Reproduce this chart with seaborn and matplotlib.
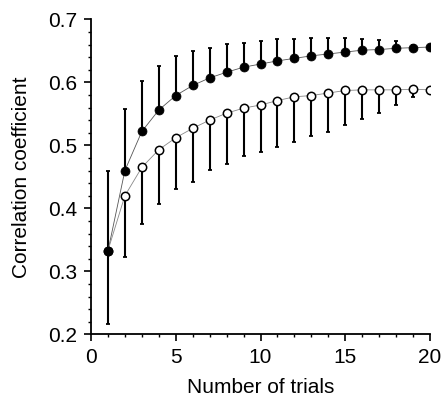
import numpy as np
import pandas as pd
import matplotlib
matplotlib.use("Agg")
import matplotlib.pyplot as plt
from matplotlib.ticker import MultipleLocator
import seaborn as sns

## Data
trials = list(range(1, 21))
filled_mean = [0.332, 0.460, 0.522, 0.556, 0.579, 0.595, 0.607, 0.616, 0.624, 0.629,
               0.634, 0.638, 0.642, 0.645, 0.648, 0.651, 0.652, 0.654, 0.655, 0.656]
filled_upper = [0.459, 0.558, 0.602, 0.626, 0.641, 0.650, 0.655, 0.661, 0.662, 0.665,
                0.668, 0.669, 0.670, 0.670, 0.670, 0.669, 0.667, 0.666, 0.660, 0.657]
open_mean = [0.333, 0.420, 0.465, 0.493, 0.512, 0.527, 0.540, 0.551, 0.559, 0.564,
             0.571, 0.577, 0.579, 0.583, 0.587, 0.588, 0.588, 0.588, 0.589, 0.588]
open_lower = [0.217, 0.323, 0.375, 0.407, 0.431, 0.442, 0.461, 0.471, 0.483, 0.490,
              0.498, 0.506, 0.514, 0.521, 0.532, 0.542, 0.552, 0.564, 0.577, 0.585]

df = pd.DataFrame({"trials": trials, "filled": filled_mean, "open": open_mean})

sns.set_style("ticks")
plt.rcParams["font.family"] = ["Liberation Sans", "DejaVu Sans"]
plt.rcParams["text.color"] = "black"
plt.rcParams["axes.labelcolor"] = "black"
plt.rcParams["xtick.color"] = "black"
plt.rcParams["ytick.color"] = "black"
plt.rcParams["axes.edgecolor"] = "black"

fig = plt.figure(figsize=(4.43, 3.98), dpi=100)
ax = fig.add_axes([0.2054, 0.160, 0.7653, 0.7915])

## Error bars: upper only for filled, lower only for open
ax.errorbar(trials, filled_mean,
            yerr=[np.zeros(20), np.array(filled_upper) - np.array(filled_mean)],
            fmt="none", ecolor="black", elinewidth=1.5, capsize=1.5, capthick=1.3, zorder=1)
ax.errorbar(trials, open_mean,
            yerr=[np.array(open_mean) - np.array(open_lower), np.zeros(20)],
            fmt="none", ecolor="black", elinewidth=1.5, capsize=1.5, capthick=1.3, zorder=1)

## Connecting lines
sns.lineplot(data=df, x="trials", y="filled", ax=ax, color="#555555", lw=0.6, zorder=2)
sns.lineplot(data=df, x="trials", y="open", ax=ax, color="#888888", lw=0.6, zorder=2)

## Markers
sns.scatterplot(data=df, x="trials", y="open", ax=ax, s=36, color="white",
                edgecolor="black", linewidth=1.1, zorder=3)
sns.scatterplot(data=df, x="trials", y="filled", ax=ax, s=42, color="black",
                edgecolor="black", linewidth=0.5, zorder=4)

ax.set_xlim(0, 20)
ax.set_ylim(0.2, 0.7)
ax.xaxis.set_major_locator(MultipleLocator(5))
ax.xaxis.set_minor_locator(MultipleLocator(1))
ax.yaxis.set_minor_locator(MultipleLocator(0.02))
ax.set_yticks(np.arange(0.2, 0.71, 0.1))
ax.set_yticklabels([f"{v:.1f}" for v in np.arange(0.2, 0.71, 0.1)])

ax.tick_params(which="major", length=5, width=1.2, labelsize=15, direction="out", pad=5)
ax.tick_params(which="minor", length=2.5, width=1.0, direction="out")
for s in ["left", "bottom"]:
    ax.spines[s].set_linewidth(1.3)
sns.despine(ax=ax)

ax.set_xlabel("Number of trials", fontsize=15, labelpad=8)
ax.set_ylabel("Correlation coefficient", fontsize=15, labelpad=12)

fig.savefig("out.png", dpi=100)
